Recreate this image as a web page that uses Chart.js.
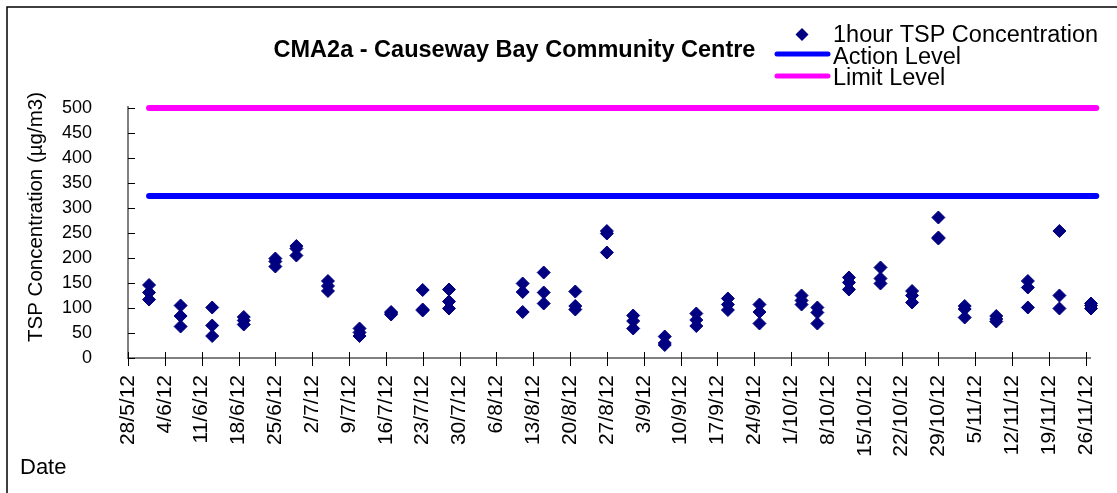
<!DOCTYPE html>
<html><head><meta charset="utf-8">
<script src="https://cdn.jsdelivr.net/npm/chart.js@4.4.0/dist/chart.umd.min.js"></script>
<style>html,body{margin:0;padding:0;background:#fff;}#wrap{width:1117px;height:493px;}</style>
</head><body><div id="wrap"><canvas id="c" width="1117" height="493"></canvas></div>
<script>
// ---- data ----
const chartTitle = 'CMA2a - Causeway Bay Community Centre';
const seriesNames = ['1hour TSP Concentration', 'Action Level', 'Limit Level'];
const yAxisTitle = 'TSP Concentration (\u00b5g/m3)';
const xAxisTitle = 'Date';
const axisStart = '28/5/12';
const axisEnd = '27/11/12';
const sampleDates = ['1/6/12','7/6/12','13/6/12','19/6/12','25/6/12','29/6/12','5/7/12','11/7/12','17/7/12','23/7/12','28/7/12',
  '11/8/12','15/8/12','21/8/12','27/8/12','1/9/12','7/9/12','13/9/12','19/9/12','25/9/12',
  '3/10/12','6/10/12','12/10/12','18/10/12','24/10/12','29/10/12','3/11/12','9/11/12','15/11/12','21/11/12','27/11/12'];
const conc1 = [146,105,101,82,199,224,154,59,92,136,137,149,171,133,254,85,43,89,119,107,125,101,161,181,134,281,104,84,154,254,109];
const conc2 = [131,84,65,75,193,219,144,51,90,97,113,132,131,104,249,74,30,76,107,92,115,91,151,159,125,241,98,78,141,125,105];
const conc3 = [117,63,44,67,183,205,134,44,87,95,99,92,109,97,211,59,26,64,96,69,107,69,137,149,111,239,81,73,101,99,99];
const levelDates = ['1/6/12','28/11/12'];
const actionLevel = [324, 324];
const limitLevel = [500, 500];
const yTicks = [0,50,100,150,200,250,300,350,400,450,500];
const tickStepDays = 7;

// ---- helpers ----
function parseDMY(s){const p=s.split('/').map(Number);return Date.UTC(2000+p[2],p[1]-1,p[0]);}
const base = parseDMY(axisStart);
function dayIdx(s){return Math.round((parseDMY(s)-base)/86400000);}
function fmtDay(v){const d=new Date(base+v*86400000);return d.getUTCDate()+'/'+(d.getUTCMonth()+1)+'/'+String(d.getUTCFullYear()).slice(2);}

const tspPoints = [];
sampleDates.forEach((s,i)=>{[conc1,conc2,conc3].forEach(arr=>{if(arr[i]!=null) tspPoints.push({x:dayIdx(s),y:arr[i]});});});
const actionPts = levelDates.map((s,i)=>({x:dayIdx(s),y:actionLevel[i]}));
const limitPts = levelDates.map((s,i)=>({x:dayIdx(s),y:limitLevel[i]}));

const FONT = 'Liberation Sans, Arial, sans-serif';
const NAVY = '#000080', BLUE = '#0000FF', MAGENTA = '#FF00FF';

const decor = {
  id:'decor',
  beforeDatasetsDraw(chart){
    const ctx=chart.ctx, xs=chart.scales.x, ys=chart.scales.y, a=chart.chartArea;
    ctx.save();
    ctx.strokeStyle='#808080'; ctx.lineWidth=2;
    ctx.beginPath(); ctx.moveTo(a.left, a.top-2); ctx.lineTo(a.left, a.bottom); ctx.lineTo(a.right, a.bottom); ctx.stroke();
    ctx.strokeStyle='#000'; ctx.lineWidth=1;
    ys.ticks.forEach(t=>{const y=Math.round(ys.getPixelForValue(t.value))+0.5;ctx.beginPath();ctx.moveTo(a.left,y);ctx.lineTo(a.left+7,y);ctx.stroke();});
    xs.ticks.forEach(t=>{const x=Math.round(xs.getPixelForValue(t.value))+0.5;ctx.beginPath();ctx.moveTo(x,a.bottom-6);ctx.lineTo(x,a.bottom+8);ctx.stroke();});
    ctx.restore();
  },
  afterDraw(chart){
    const ctx=chart.ctx;
    ctx.save();
    ctx.strokeStyle='#000'; ctx.lineWidth=1.5;
    ctx.beginPath(); ctx.moveTo(7,493); ctx.lineTo(7,7); ctx.lineTo(1117,7); ctx.stroke();
    ctx.fillStyle='#000'; ctx.textAlign='center'; ctx.textBaseline='alphabetic';
    ctx.font='bold 23.5px '+FONT;
    ctx.fillText(chartTitle, 514.5, 57);
    ctx.textAlign='left'; ctx.font='23.5px '+FONT;
    ctx.fillText(seriesNames[0], 833, 42);
    ctx.fillText(seriesNames[1], 833, 63.5);
    ctx.fillText(seriesNames[2], 833, 85);
    ctx.fillStyle=NAVY; ctx.beginPath();
    ctx.moveTo(802,28); ctx.lineTo(808.5,34.5); ctx.lineTo(802,41); ctx.lineTo(795.5,34.5); ctx.closePath(); ctx.fill();
    ctx.lineCap='round'; ctx.lineWidth=5;
    ctx.strokeStyle=BLUE; ctx.beginPath(); ctx.moveTo(777,54); ctx.lineTo(828,54); ctx.stroke();
    ctx.strokeStyle=MAGENTA; ctx.beginPath(); ctx.moveTo(777,76); ctx.lineTo(828,76); ctx.stroke();
    ctx.fillStyle='#000'; ctx.font='22px '+FONT;
    ctx.textAlign='left'; ctx.textBaseline='alphabetic';
    ctx.fillText(xAxisTitle, 20, 474);
    ctx.font='20.5px '+FONT;
    ctx.translate(42, 217); ctx.rotate(-Math.PI/2);
    ctx.textAlign='center'; ctx.fillText(yAxisTitle, 0, 0);
    ctx.restore();
  }
};

new Chart(document.getElementById('c'), {
  type:'scatter',
  data:{datasets:[
    {label:seriesNames[1], data:actionPts, showLine:true, borderColor:BLUE, borderWidth:6, borderCapStyle:'round', pointRadius:0, clip:false},
    {label:seriesNames[2], data:limitPts, showLine:true, borderColor:MAGENTA, borderWidth:6, borderCapStyle:'round', pointRadius:0, clip:false},
    {label:seriesNames[0], data:tspPoints, pointStyle:'rectRot', pointRadius:6.5, backgroundColor:NAVY, borderColor:NAVY, borderWidth:1, clip:false}
  ]},
  options:{
    responsive:false, animation:false, devicePixelRatio:1,
    layout:{padding:{top:108,right:26,left:0,bottom:0}},
    plugins:{legend:{display:false}, title:{display:false}, tooltip:{enabled:false}},
    scales:{
      x:{type:'linear', min:0, max:dayIdx(axisEnd),
        afterBuildTicks(s){const t=[];for(let v=0;v<=s.max;v+=tickStepDays)t.push({value:v});s.ticks=t;},
        afterFit(s){s.height=135; s.paddingLeft=0; s.paddingRight=0;},
        grid:{display:false, drawTicks:false}, border:{display:false},
        ticks:{autoSkip:false, minRotation:90, maxRotation:90, padding:17, color:'#000', font:{family:FONT,size:21}, callback:v=>fmtDay(v)}},
      y:{min:0, max:500,
        afterBuildTicks(s){s.ticks=yTicks.map(v=>({value:v}));},
        afterFit(s){s.width=128; s.paddingTop=0; s.paddingBottom=0;},
        grid:{display:false, drawTicks:false}, border:{display:false},
        ticks:{padding:36, color:'#000', font:{family:FONT,size:18}}}
    }
  },
  plugins:[decor]
});
</script></body></html>
